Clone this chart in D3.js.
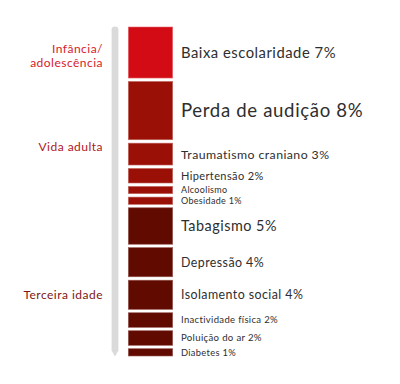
<!DOCTYPE html>
<html><head><meta charset="utf-8">
<script src="https://cdn.jsdelivr.net/npm/d3@7/dist/d3.min.js"></script>
<style>body{margin:0;background:#fff}svg{display:block}</style>
</head><body><svg id="c" width="400" height="384"></svg>
<script>
const factors = ["Baixa escolaridade","Perda de audição","Traumatismo craniano","Hipertensão","Alcoolismo","Obesidade","Tabagismo","Depressão","Isolamento social","Inactividade física","Poluição do ar","Diabetes"];
const values = [7,8,3,2,1,1,5,4,4,2,2,1];
const showPct = [true,true,true,true,false,true,true,true,true,true,true,true];
const stageOf = [0,1,1,1,1,1,2,2,2,2,2,2];
const stages = ["Infância/\nadolescência","Vida adulta","Terceira idade"];

(function(){
const svg = d3.select("#c");
const font = "Lato, 'Open Sans', sans-serif";
const barX = 128.3, barW = 44.4, barTop = 27, gap = 3.4;
const total = d3.sum(values);
const h = d3.scaleLinear().domain([0, total]).range([0, 356 - barTop - gap * (values.length - 1)]);
const fill = d3.scaleOrdinal().domain([0,1,2]).range(["#d20b15","#9a0f06","#610b00"]);
const stroke = d3.scaleOrdinal().domain([0,1,2]).range(["#e86a70","#c46a62","#9a5a55"]);
const labelCol = d3.scaleOrdinal().domain([0,1,2]).range(["#d7202a","#b0161c","#7e1714"]);
const fs = d3.scaleOrdinal().domain(factors).range([14.8,18.6,12.3,11,9,9,14.4,12.4,12.4,9.5,9.6,9.3]);

let acc = 0;
const segs = values.map((v, i) => {
  const y0 = barTop + h(acc) + gap * i;
  acc += v;
  return {i, v, name: factors[i], y0, y1: y0 + h(v), stage: stageOf[i]};
});

const gx0 = 111.6, gx1 = 118.4, gTop = 26.5, gBot = 356.5;
svg.append("path")
  .attr("d", `M${gx0},${gTop+3} Q${gx0},${gTop} ${(gx0+gx1)/2},${gTop} Q${gx1},${gTop} ${gx1},${gTop+3} L${gx1},${gBot-6} L${(gx0+gx1)/2},${gBot} L${gx0},${gBot-6} Z`)
  .attr("fill", "#dadada");

svg.selectAll("rect.seg").data(segs).join("rect")
  .attr("x", barX).attr("width", barW)
  .attr("y", d => d.y0).attr("height", d => d.y1 - d.y0)
  .attr("fill", d => fill(d.stage))
  .attr("stroke", d => stroke(d.stage)).attr("stroke-width", 0.6);

svg.selectAll("text.lab").data(segs).join("text")
  .attr("x", 181)
  .attr("y", d => (d.y0 + d.y1) / 2 + fs(d.name) * 0.36)
  .attr("font-family", font)
  .attr("font-size", d => fs(d.name))
  .attr("letter-spacing", "0.035em")
  .attr("fill", "#2e2e2e")
  .text(d => d.name + (showPct[d.i] ? " " + d.v + "%" : ""));

const stageY = [[52.7, 67.3], [150.7], [298.7]];
stages.forEach((s, k) => {
  s.split("\n").forEach((ln, j) => {
    svg.append("text")
      .attr("x", 103).attr("y", stageY[k][j])
      .attr("text-anchor", "end")
      .attr("font-family", font).attr("font-size", 12)
      .attr("letter-spacing", "0.04em")
      .attr("fill", labelCol(k))
      .text(ln);
  });
});
})();
</script></body></html>
